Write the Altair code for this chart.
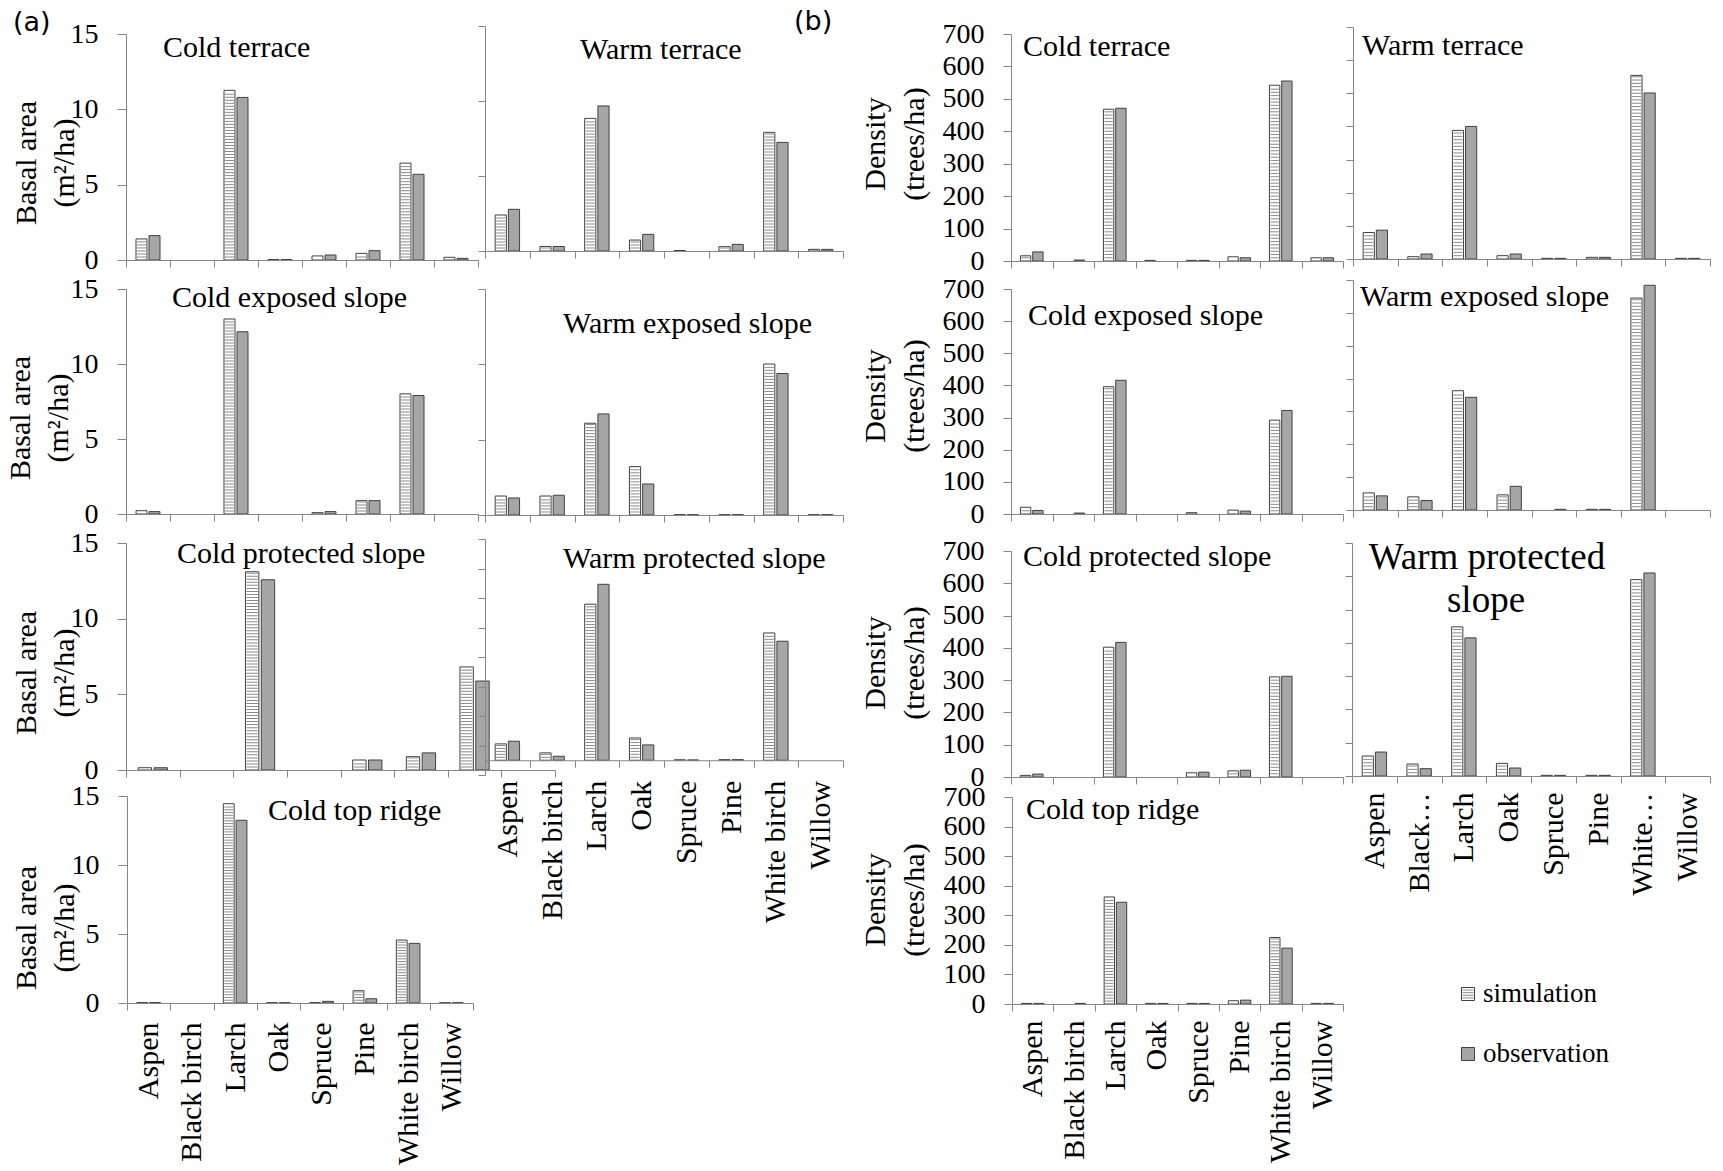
import altair as alt
import pandas as pd

SPECIES = ["Aspen", "Black birch", "Larch", "Oak", "Spruce", "Pine", "White birch", "Willow"]
SERIES = ["simulation", "observation"]

# (a) basal area (m2/ha)
ba_cold_terrace_sim = [1.40, 0, 11.26, 0.03, 0.27, 0.44, 6.43, 0.18]
ba_cold_terrace_obs = [1.62, 0, 10.79, 0.03, 0.33, 0.62, 5.69, 0.11]
ba_warm_terrace_sim = [2.40, 0.30, 8.84, 0.73, 0.03, 0.29, 7.91, 0.11]
ba_warm_terrace_obs = [2.78, 0.30, 9.67, 1.11, 0, 0.44, 7.24, 0.11]
ba_cold_exposed_sim = [0.22, 0, 13.00, 0, 0.09, 0.89, 8.01, 0]
ba_cold_exposed_obs = [0.16, 0, 12.15, 0, 0.16, 0.89, 7.90, 0]
ba_warm_exposed_sim = [1.26, 1.26, 6.09, 3.21, 0.02, 0.02, 10.02, 0.02]
ba_warm_exposed_obs = [1.13, 1.31, 6.71, 2.06, 0.02, 0.02, 9.39, 0.02]
ba_cold_protected_sim = [0.15, 0, 13.10, 0, 0.66, 0.88, 6.81, 0]
ba_cold_protected_obs = [0.15, 0, 12.57, 0, 0.66, 1.13, 5.88, 0]
ba_warm_protected_sim = [1.11, 0.50, 10.58, 1.51, 0.03, 0.04, 8.63, 0]
ba_warm_protected_obs = [1.29, 0.27, 11.93, 1.04, 0.02, 0.04, 8.07, 0]
ba_cold_ridge_sim = [0.03, 0, 14.44, 0.02, 0.03, 0.89, 4.56, 0.02]
ba_cold_ridge_obs = [0.03, 0, 13.24, 0.02, 0.12, 0.31, 4.32, 0.02]

# (b) density (trees/ha)
de_cold_terrace_sim = [16, 0, 468, 2, 2, 13, 542, 10]
de_cold_terrace_obs = [28, 3, 471, 0, 2, 10, 555, 10]
de_warm_terrace_sim = [80, 7, 388, 10, 2, 5, 554, 2]
de_warm_terrace_obs = [87, 15, 400, 15, 2, 5, 501, 2]
de_cold_exposed_sim = [21, 0, 396, 0, 4, 12, 292, 0]
de_cold_exposed_obs = [11, 3, 416, 0, 0, 9, 322, 0]
de_warm_exposed_sim = [52, 40, 363, 46, 0, 2, 645, 0]
de_warm_exposed_obs = [43, 29, 343, 72, 2, 2, 684, 0]
de_cold_protected_sim = [5, 0, 402, 0, 13, 19, 310, 0]
de_cold_protected_obs = [9, 0, 417, 0, 15, 21, 312, 0]
de_warm_protected_sim = [60, 36, 448, 38, 2, 2, 590, 0]
de_warm_protected_obs = [72, 22, 415, 24, 2, 2, 610, 0]
de_cold_ridge_sim = [2, 0, 362, 2, 2, 11, 225, 2]
de_cold_ridge_obs = [2, 2, 344, 2, 2, 13, 189, 2]

# ---------------- styling / layout ----------------
W, H = 1723, 1171
SERIF = "Liberation Serif"
SANS = "DejaVu Sans"
AX = "#868686"
BAR_STROKE = "#404040"
OBS = "#a6a6a6"
HATCH = "#8a8a8a"
PI, PO = 0.154, 0.77

BA_TICKS = [0, 5, 10, 15]
BA_TICKS_ODD = [-1, 1, 3, 5, 7, 9, 11, 13, 15]
DE_TICKS = [0, 100, 200, 300, 400, 500, 600, 700]
TRUNC = "datum.label == 'Black birch' ? 'Black\u2026' : (datum.label == 'White birch' ? 'White\u2026' : datum.label)"


def series_df(vals, name):
    return pd.DataFrame([{"species": s, "series": name, "value": v}
                         for s, v in zip(SPECIES, vals) if v > 0])


def hatch_df(vals, step):
    rows = []
    for s, v in zip(SPECIES, vals):
        k = 1
        while k * step < v - 0.35 * step:
            rows.append({"species": s, "series": "simulation", "value": round(k * step, 4)})
            k += 1
    return pd.DataFrame(rows)


def make_panel(sim, obs, xr, ydom, yr, yvals, ylabels, tick_y, hatch_step,
               xlabels=False, xlabel_pad=12, label_expr=None):
    x0, x1 = xr
    band = (x1 - x0) / len(SPECIES)
    step = band / (2 - PI + 2 * PO)
    bw = step * (1 - PI)
    base = yr[0] + (0 - ydom[0]) / (ydom[1] - ydom[0]) * (yr[1] - yr[0])

    xs = alt.Scale(domain=SPECIES, range=[x0, x1], paddingInner=0, paddingOuter=0)
    xo = alt.Scale(domain=SERIES, paddingInner=PI, paddingOuter=PO)
    ys = alt.Scale(domain=list(ydom), range=list(yr), nice=False, zero=False)

    xk = dict(orient="bottom", offset=base - H, tickBand="extent", tickSize=7,
              domainColor=AX, tickColor=AX, grid=False, labels=xlabels, zindex=1, title=None)
    if xlabels:
        xk.update(labelAngle=270, labelFont=SERIF, labelFontSize=30, labelColor="black",
                  labelPadding=xlabel_pad, labelLimit=400)
        if label_expr:
            xk["labelExpr"] = label_expr
    yk = dict(orient="left", offset=-x0, values=yvals, tickSize=tick_y, domainColor=AX,
              tickColor=AX, grid=False, labels=ylabels, zindex=1, title=None)
    if ylabels:
        yk.update(labelFont=SERIF, labelFontSize=28, labelColor="black", labelPadding=19,
                  labelFlush=False, labelOverlap=False)

    def enc():
        return dict(
            x=alt.X("species:N", scale=xs, axis=alt.Axis(**xk), title=None),
            xOffset=alt.XOffset("series:N", scale=xo),
            y=alt.Y("value:Q", scale=ys, axis=alt.Axis(**yk), title=None),
        )

    layers = [alt.Chart(series_df(sim, "simulation")).mark_bar(
        fill="white", stroke=BAR_STROKE, strokeWidth=1).encode(**enc())]
    hd = hatch_df(sim, hatch_step)
    if len(hd):
        layers.append(alt.Chart(hd).mark_tick(
            color=HATCH, thickness=1, size=max(bw - 2, 1), opacity=1).encode(**enc()))
    layers.append(alt.Chart(series_df(obs, "observation")).mark_bar(
        fill=OBS, stroke=BAR_STROKE, strokeWidth=1).encode(**enc()))
    return alt.layer(*layers)


def txt(text, x, y, size=30, align="left", baseline="alphabetic", angle=0, font=SERIF):
    return alt.Chart(pd.DataFrame({"t": [text]})).mark_text(
        align=align, baseline=baseline, font=font, fontSize=size, angle=angle, color="black"
    ).encode(text="t:N", x=alt.value(x), y=alt.value(y))


panels = [
    # (a)
    make_panel(ba_cold_terrace_sim, ba_cold_terrace_obs, (126, 478), (0, 15), (260, 34), BA_TICKS, True, 9, 0.2),
    make_panel(ba_warm_terrace_sim, ba_warm_terrace_obs, (485, 843), (0, 15), (251, 26), BA_TICKS, False, 7, 0.2),
    make_panel(ba_cold_exposed_sim, ba_cold_exposed_obs, (126, 478), (0, 15), (514, 289), BA_TICKS, True, 9, 0.2),
    make_panel(ba_warm_exposed_sim, ba_warm_exposed_obs, (485, 843), (0, 15), (515, 289), BA_TICKS, False, 7, 0.2),
    make_panel(ba_warm_protected_sim, ba_warm_protected_obs, (485, 843), (-1, 15), (775, 539), BA_TICKS_ODD, False, 7, 0.2,
               xlabels=True, xlabel_pad=13),
    make_panel(ba_cold_protected_sim, ba_cold_protected_obs, (126, 555), (0, 15), (770, 543), BA_TICKS, True, 9, 0.2),
    make_panel(ba_cold_ridge_sim, ba_cold_ridge_obs, (127, 473), (0, 15), (1003, 796), BA_TICKS, True, 9, 0.2,
               xlabels=True, xlabel_pad=12),
    # (b)
    make_panel(de_cold_terrace_sim, de_cold_terrace_obs, (1011, 1343), (0, 700), (261, 34), DE_TICKS, True, 8, 10),
    make_panel(de_warm_terrace_sim, de_warm_terrace_obs, (1353, 1710), (0, 700), (259, 27), DE_TICKS, False, 7, 10),
    make_panel(de_cold_exposed_sim, de_cold_exposed_obs, (1011, 1343), (0, 700), (514, 289), DE_TICKS, True, 8, 10),
    make_panel(de_warm_exposed_sim, de_warm_exposed_obs, (1353, 1710), (0, 700), (510, 280), DE_TICKS, False, 7, 10),
    make_panel(de_cold_protected_sim, de_cold_protected_obs, (1011, 1343), (0, 700), (777, 551), DE_TICKS, True, 8, 10),
    make_panel(de_warm_protected_sim, de_warm_protected_obs, (1352, 1710), (0, 700), (776, 543), DE_TICKS, False, 7, 10,
               xlabels=True, xlabel_pad=9, label_expr=TRUNC),
    make_panel(de_cold_ridge_sim, de_cold_ridge_obs, (1012, 1343), (0, 700), (1004, 797), DE_TICKS, True, 8, 10,
               xlabels=True, xlabel_pad=9),
]

texts = [
    txt("(a)", 13, 23, size=27, baseline="middle", font=SANS),
    txt("(b)", 794, 22, size=27, baseline="middle", font=SANS),
    # panel titles (a)
    txt("Cold terrace", 163, 57),
    txt("Warm terrace", 580, 59),
    txt("Cold exposed slope", 172, 307),
    txt("Warm exposed slope", 563, 333),
    txt("Cold protected slope", 177, 563),
    txt("Warm protected slope", 563, 568),
    txt("Cold top ridge", 268, 820),
    # panel titles (b)
    txt("Cold terrace", 1023, 56),
    txt("Warm terrace", 1362, 55),
    txt("Cold exposed slope", 1028, 325),
    txt("Warm exposed slope", 1360, 306),
    txt("Cold protected slope", 1023, 566),
    txt("Warm protected", 1487, 569, size=37, align="center"),
    txt("slope", 1486, 612, size=37, align="center"),
    txt("Cold top ridge", 1026, 819),
]

for yc, x1, x2 in [(163, 27, 65), (418, 21, 59), (673, 27, 65), (928, 27, 65)]:
    texts.append(txt("Basal  area", x1, yc, angle=270, align="center", baseline="middle"))
    texts.append(txt("(m\u00b2/ha)", x2, yc, angle=270, align="center", baseline="middle"))
for yc in [144, 396, 663, 900]:
    texts.append(txt("Density", 876, yc, angle=270, align="center", baseline="middle"))
    texts.append(txt("(trees/ha)", 915, yc, angle=270, align="center", baseline="middle"))

# legend
leg_df = pd.DataFrame({"label": SERIES})
ly = alt.Y("label:N", scale=alt.Scale(domain=SERIES, range=[994, 1054], padding=0), axis=None)
leg_sw = alt.Chart(leg_df).mark_square(size=169, stroke=BAR_STROKE, strokeWidth=1, opacity=1).encode(
    x=alt.value(1468), y=ly,
    fill=alt.Fill("label:N", scale=alt.Scale(domain=SERIES, range=["white", OBS]), legend=None))
leg_hatch = alt.Chart(leg_df[leg_df["label"] == "simulation"]).mark_point(
    shape="M-0.85,-0.6H0.85M-0.85,-0.2H0.85M-0.85,0.2H0.85M-0.85,0.6H0.85",
    size=169, color=HATCH, strokeWidth=1, filled=False, opacity=1).encode(x=alt.value(1468), y=ly)
leg_txt = alt.Chart(leg_df).mark_text(align="left", baseline="middle", font=SERIF, fontSize=27,
                                      color="black").encode(text="label:N", x=alt.value(1483), y=ly)
legend = alt.layer(leg_sw, leg_hatch, leg_txt)

chart = alt.layer(*panels, legend, *texts).properties(
    width=W, height=H, autosize=alt.AutoSizeParams(type="none"), padding=0, background="white"
).resolve_scale(x="independent", y="independent", xOffset="independent").configure_view(
    stroke=None
).configure_axis(labelFont=SERIF, labelColor="black")

chart.save("out.html", embed_options={"renderer": "svg", "actions": False})
